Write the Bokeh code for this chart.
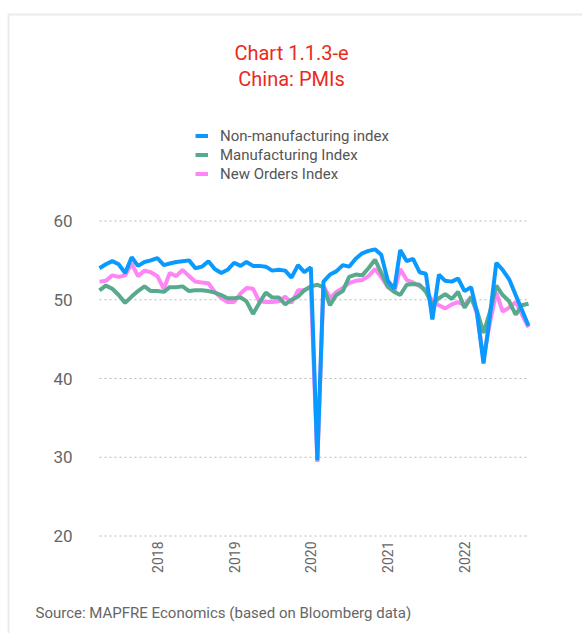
import math
import pandas as pd
from bokeh.plotting import figure
from bokeh.models import (Range1d, Legend, LegendItem, Label, BoxAnnotation, ColumnDataSource)
from bokeh.embed import file_html
from bokeh.resources import INLINE

# Monthly PMI readings, April 2017 - November 2022
months = pd.date_range("2017-04-01", "2022-11-01", freq="MS")

non_manufacturing = [
    54.0, 54.5, 54.9, 54.5, 53.4, 55.4, 54.3, 54.8, 55.0,
    55.3, 54.4, 54.6, 54.8, 54.9, 55.0, 54.0, 54.2, 54.9, 53.9, 53.4, 53.8,
    54.7, 54.3, 54.8, 54.3, 54.3, 54.2, 53.7, 53.8, 53.7, 52.8, 54.4, 53.5,
    54.1, 29.6, 52.3, 53.2, 53.6, 54.4, 54.2, 55.2, 55.9, 56.2, 56.4, 55.7,
    52.4, 51.4, 56.3, 54.9, 55.2, 53.5, 53.3, 47.5, 53.2, 52.4, 52.3, 52.7,
    51.1, 51.6, 48.4, 41.9, 47.8, 54.7, 53.8, 52.6, 50.6, 48.7, 46.7,
]

manufacturing = [
    51.2, 51.8, 51.4, 50.6, 49.6, 50.4, 51.1, 51.7, 51.1,
    51.1, 51.0, 51.6, 51.6, 51.7, 51.1, 51.2, 51.2, 51.1, 50.9, 50.6, 50.2,
    50.2, 50.3, 49.8, 48.2, 49.6, 50.9, 50.3, 50.3, 49.4, 50.0, 50.4, 51.2,
    51.7, 51.9, 51.6, 49.3, 50.6, 51.1, 52.9, 53.2, 53.1, 54.0, 55.1, 53.4,
    51.7, 51.0, 50.6, 51.9, 52.0, 51.9, 51.0, 49.4, 50.2, 50.7, 50.1, 51.0,
    49.0, 50.3, 48.6, 45.8, 48.4, 51.8, 50.6, 49.8, 48.1, 49.3, 49.5,
]

new_orders = [
    52.3, 52.4, 53.1, 52.9, 53.1, 54.6, 53.0, 53.7, 53.5,
    53.0, 51.4, 53.4, 53.0, 53.8, 53.0, 52.3, 52.2, 52.1, 51.0, 50.2, 49.7,
    49.7, 50.8, 51.5, 51.4, 49.8, 49.7, 49.7, 49.8, 50.4, 49.6, 51.2, 51.2,
    51.6, 29.4, 51.8, 50.2, 51.0, 51.5, 52.1, 52.4, 52.5, 53.0, 53.9, 52.9,
    51.6, 51.0, 53.9, 52.5, 52.2, 51.7, 51.3, 49.8, 49.3, 48.9, 49.4, 49.7,
    49.3, 50.4, 48.2, 42.5, 47.0, 50.9, 48.5, 49.0, 49.7, 48.1, 46.5,
]

year_ticks = ["2018-01-01", "2019-01-01", "2020-01-01", "2021-01-01", "2022-01-01"]
year_labels = ["2018", "2019", "2020", "2021", "2022"]
y_ticks = [20, 30, 40, 50, 60]

FONT = "Roboto"
GREY = "#666666"
W, H = 582, 633

# plotting area inside the canvas (pixels)
AREA_LEFT, AREA_RIGHT = 99, 528
AREA_TOP, AREA_BOTTOM = 220.5, 535.5    # where 60 and 20 sit
Y_LO, Y_HI = 20, 60

t0 = months[0].value / 1e6
t1 = months[-1].value / 1e6
ms_per_px = (t1 - t0) / (AREA_RIGHT - AREA_LEFT)
x_range = Range1d(t0 - AREA_LEFT * ms_per_px, t1 + (W - AREA_RIGHT) * ms_per_px)
u_per_px = (Y_HI - Y_LO) / (AREA_BOTTOM - AREA_TOP)
y_range = Range1d(Y_LO - (H - AREA_BOTTOM) * u_per_px, Y_HI + AREA_TOP * u_per_px)

src = ColumnDataSource(dict(month=months, nonman=non_manufacturing,
                            man=manufacturing, orders=new_orders))
grid_src = ColumnDataSource(dict(x0=[months[0]] * len(y_ticks), x1=[months[-1]] * len(y_ticks),
                                 y=y_ticks))

p = figure(width=W, height=H, output_backend="svg", toolbar_location=None,
           x_axis_type="datetime", x_range=x_range, y_range=y_range,
           min_border=0)
p.outline_line_color = None
p.background_fill_color = "white"
p.border_fill_color = "white"
p.xaxis.visible = False
p.yaxis.visible = False
p.grid.grid_line_color = None

# dotted horizontal guides
p.segment(x0="x0", x1="x1", y0="y", y1="y", source=grid_src,
          line_color="#b8b8b8", line_dash="2 3", line_width=1)

# y tick labels
for t in y_ticks:
    p.add_layout(Label(x=72, y=t, x_units="screen", y_units="data", text=str(t),
                       text_align="right", text_baseline="middle",
                       text_color=GREY, text_font=FONT, text_font_size="17px"))

# x tick labels (rotated)
for t, lab in zip(year_ticks, year_labels):
    p.add_layout(Label(x=pd.Timestamp(t).value / 1e6, y=H - 541, x_units="data", y_units="screen",
                       text=lab, angle=math.pi / 2, text_align="right", text_baseline="middle",
                       text_color=GREY, text_font=FONT, text_font_size="14px"))

# series (drawn bottom to top)
r_orders = p.line("month", "orders", source=src, line_color="#ff85f7", line_width=4)
r_man = p.line("month", "man", source=src, line_color="#57aa8c", line_width=4)
r_nonman = p.line("month", "nonman", source=src, line_color="#0a99ff", line_width=4)

legend = Legend(items=[
    LegendItem(label="Non-manufacturing index", renderers=[r_nonman]),
    LegendItem(label="Manufacturing Index", renderers=[r_man]),
    LegendItem(label="New Orders Index", renderers=[r_orders]),
], location=(195, H - 183), orientation="vertical")
legend.background_fill_alpha = 0
legend.border_line_color = None
legend.padding = 0
legend.margin = 0
legend.spacing = 0
legend.glyph_width = 13
legend.glyph_height = 19
legend.label_height = 19
legend.label_standoff = 12
legend.label_text_font = FONT
legend.label_text_font_size = "15px"
legend.label_text_color = "#555555"
p.add_layout(legend, "center")

# titles and source
for txt, yy in (("Chart 1.1.3-e", 52), ("China: PMIs", 78)):
    p.add_layout(Label(x=291, y=H - yy, x_units="screen", y_units="screen", text=txt,
                       text_align="center", text_baseline="middle",
                       text_color="#ea2a1c", text_font=FONT, text_font_size="20px"))

p.add_layout(Label(x=35, y=H - 612, x_units="screen", y_units="screen",
                   text="Source: MAPFRE Economics (based on Bloomberg data)",
                   text_align="left", text_baseline="middle",
                   text_color=GREY, text_font=FONT, text_font_size="15px"))

# panel frame (top and left edges visible)
p.add_layout(BoxAnnotation(left=8, right=W + 50, top=H - 14, bottom=-50,
                           left_units="screen", right_units="screen",
                           top_units="screen", bottom_units="screen",
                           fill_alpha=0, line_color="#bdbdbd", line_width=2))

open("out.html", "w").write(file_html(p, INLINE))
